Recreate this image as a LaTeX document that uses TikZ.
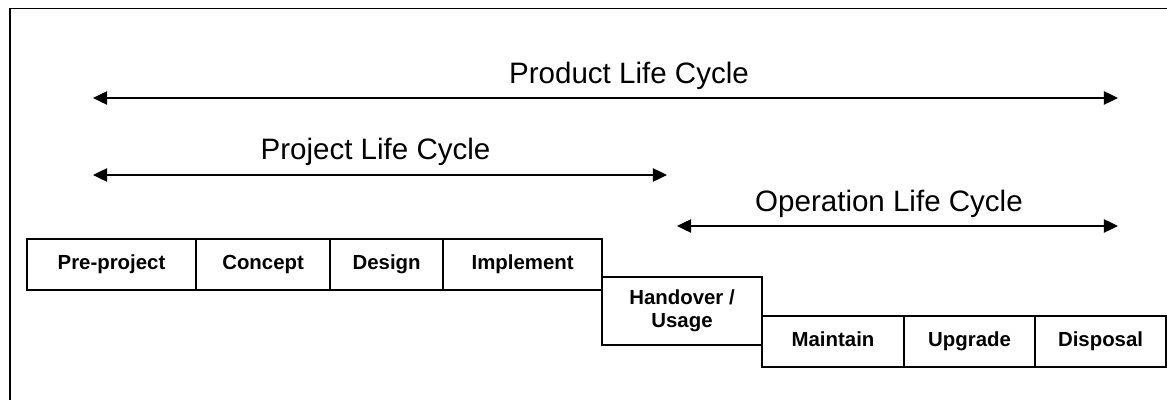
\documentclass[tikz,border=0pt]{standalone}
\usepackage{fontspec}
\setmainfont{Liberation Sans}
\usetikzlibrary{arrows.meta,positioning}

\begin{document}
\begin{tikzpicture}[x=0.025cm,y=-0.025cm,
    phase/.style={draw,line width=1.1pt,inner sep=0pt,outer sep=0pt,minimum height=1.275cm,
      text height=10.5pt,text depth=3.9pt,font=\fontsize{14.5}{16}\bfseries\selectfont},
    twoline/.style={text height=,text depth=,align=center},
    lifespan/.style={line width=1pt,{Triangle[length=10pt,width=9.5pt]}-{Triangle[length=10pt,width=9.5pt]}},
    cyclelabel/.style={anchor=base,inner sep=0pt,font=\fontsize{21}{24}\selectfont}]
  \clip (0,0) rectangle (1167,400);
  \draw[line width=1.4pt] (10,8.5) rectangle (1200,430);

  % life cycle spans
  \coordinate (prodL) at (93,98);   \coordinate (prodR) at (1118,98);
  \coordinate (projL) at (93,175);  \coordinate (projR) at (667,175);
  \coordinate (operL) at (677,226); \coordinate (operR) at (1118,226);
  \draw[lifespan] (prodL) -- (prodR);
  \draw[lifespan] (projL) -- (projR);
  \draw[lifespan] (operL) -- (operR);
  \node[cyclelabel] (prod) at (629,83.3) {Product Life Cycle};
  \node[cyclelabel] (proj) at (375.5,159.3) {Project Life Cycle};
  \node[cyclelabel] (oper) at (889,211.7) {Operation Life Cycle};

  % phases
  \node[phase,minimum width=4.225cm,anchor=north west] (pre) at (27,239) {Pre-project};
  \node[phase,minimum width=3.35cm,right=0pt of pre] (con) {Concept};
  \node[phase,minimum width=2.825cm,right=0pt of con] (des) {Design};
  \node[phase,minimum width=3.975cm,right=0pt of des] (imp) {Implement};
  \node[phase,twoline,minimum width=4cm,minimum height=1.7cm,anchor=north west] (hand) at (602,277) {Handover /\\Usage};
  \node[phase,minimum width=3.55cm,anchor=north west] (mai) at (762,316) {Maintain};
  \node[phase,minimum width=3.275cm,right=0pt of mai] (upg) {Upgrade};
  \node[phase,minimum width=3.275cm,right=0pt of upg] (dis) {Disposal};
\end{tikzpicture}
\end{document}
